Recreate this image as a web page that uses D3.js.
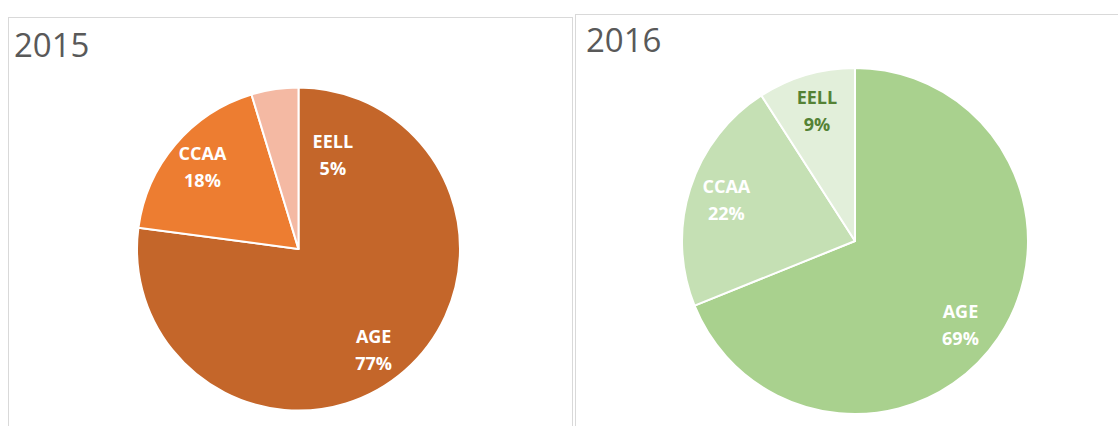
<!DOCTYPE html>
<html>
<head>
<meta charset="utf-8">
<script src="https://cdn.jsdelivr.net/npm/d3@7"></script>
<style>
  body { margin: 0; background: #fff; }
  svg { display: block; }
  .title { font-family: "Open Sans", sans-serif; font-size: 33px; fill: #595959; }
  .lbl { font-family: "Open Sans", sans-serif; font-size: 18px; font-weight: bold; }
</style>
</head>
<body>
<script>
// categories, clockwise from 12 o'clock
var categories = ["AGE", "CCAA", "EELL"];
var years = ["2015", "2016"];
var values2015 = [77.1, 18.2, 4.7];
var values2016 = [68.9, 22.0, 9.1];

var colors2015 = ["#C4662A", "#ED7D31", "#F4B9A3"];
var colors2016 = ["#A9D18E", "#C5E0B4", "#E2EFDA"];
var labelColors2015 = ["#fff", "#fff", "#fff"];
var labelColors2016 = ["#fff", "#fff", "#548235"];

var width = 1118, height = 426;

var svg = d3.select("body").append("svg")
  .attr("width", width)
  .attr("height", height);

var panels = [
  {year: years[0], values: values2015, colors: colors2015, lc: labelColors2015,
   box: {x: 8.5, y: 17.5, w: 564}, cx: 298.5, cy: 249, r: 161.5, titleX: 14, titleY: 57},
  {year: years[1], values: values2016, colors: colors2016, lc: labelColors2016,
   box: {x: 575.5, y: 14.5, w: 600}, cx: 855, cy: 241, r: 173, titleX: 586, titleY: 52}
];

var pie = d3.pie().sort(null).value(function(d) { return d; });
var pct = d3.format(".0%");

panels.forEach(function(p) {
  var g = svg.append("g");

  // chart area border
  g.append("rect")
    .attr("x", p.box.x).attr("y", p.box.y)
    .attr("width", p.box.w).attr("height", 500)
    .attr("fill", "#fff")
    .attr("stroke", "#d9d9d9")
    .attr("stroke-width", 1);

  g.append("text")
    .attr("class", "title")
    .attr("x", p.titleX)
    .attr("y", p.titleY)
    .text(p.year);

  var total = d3.sum(p.values);
  var arcs = pie(p.values);
  var arc = d3.arc().innerRadius(0).outerRadius(p.r);

  var pg = g.append("g")
    .attr("transform", "translate(" + p.cx + "," + p.cy + ")");

  pg.selectAll("path")
    .data(arcs)
    .enter()
    .append("path")
    .attr("d", arc)
    .attr("fill", function(d, i) { return p.colors[i]; })
    .attr("stroke", "#fff")
    .attr("stroke-width", 2)
    .attr("stroke-linejoin", "round");

  // label position: inside the slice (big slice nudged a bit lower, like excel's best fit),
  // narrow slices get pushed past the 12 o'clock line
  var lbl = pg.selectAll(".lbl")
    .data(arcs)
    .enter()
    .append("text")
    .attr("class", "lbl")
    .attr("text-anchor", "middle")
    .attr("fill", function(d, i) { return p.lc[i]; })
    .attr("transform", function(d) {
      var frac = d.value / total;
      var a, rr;
      if (frac < 0.06) {
        a = d.endAngle + 0.35;
        rr = p.r * 0.62;
      } else {
        a = (d.startAngle + d.endAngle) / 2;
        if (frac > 0.5) a += 0.08;
        rr = p.r * 0.78;
      }
      return "translate(" + (Math.sin(a) * rr) + "," + (-Math.cos(a) * rr) + ")";
    });

  lbl.append("tspan")
    .attr("x", 0).attr("dy", "-0.4em")
    .text(function(d, i) { return categories[i]; });
  lbl.append("tspan")
    .attr("x", 0).attr("dy", "1.5em")
    .text(function(d) { return pct(d.value / total); });
});
</script>
</body>
</html>
